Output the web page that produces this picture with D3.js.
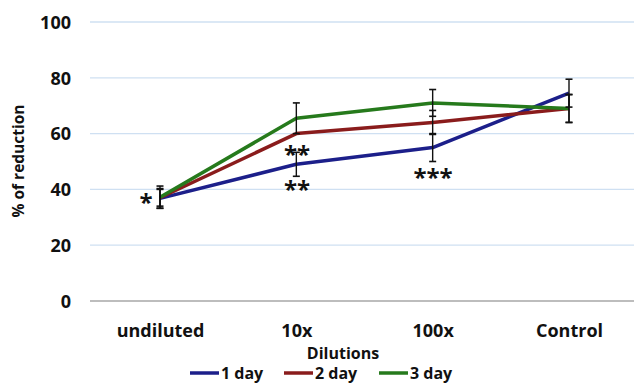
<!DOCTYPE html>
<html>
<head>
<meta charset="utf-8">
<script src="https://cdn.jsdelivr.net/npm/d3@7"></script>
<style>
  body { margin: 0; background: #fff; }
  text { font-family: "Open Sans", sans-serif; font-weight: bold; fill: #111; }
</style>
</head>
<body>
<script>
// chart data
var categories = ["undiluted", "10x", "100x", "Control"];
var seriesNames = ["1 day", "2 day", "3 day"];
var day1 = [36.8, 49, 55, 74.5];
var day2 = [37, 60, 64, 69];
var day3 = [37.2, 65.5, 71, 69];
var err1 = [3.5, 4.3, 5, 5];
var err2 = [3, 0, 4.3, 5];
var err3 = [4, 5.5, 4.8, 5];
var yTicks = [0, 20, 40, 60, 80, 100];
var stars = ["*", "**", "***", ""];
var colors = ["#1c1f8a", "#8a1c1c", "#267a1c"];

var W = 634, H = 384;
var svg = d3.select("body").append("svg")
    .attr("width", W)
    .attr("height", H);

var x = d3.scalePoint().domain(categories).range([160, 569]);
var y = d3.scaleLinear().domain([0, 100]).range([301, 22]);

// grid
svg.selectAll(".grid").data(yTicks.filter(function(d){ return d > 0; }))
  .enter().append("line")
    .attr("x1", 90).attr("x2", W)
    .attr("y1", function(d){ return y(d); })
    .attr("y2", function(d){ return y(d); })
    .style("stroke", "#cfe0f2").style("stroke-width", 1.3);
svg.append("line")
    .attr("x1", 90).attr("x2", W)
    .attr("y1", y(0)).attr("y2", y(0))
    .style("stroke", "#bdbdbd").style("stroke-width", 2);

// y axis labels
var yAxis = d3.axisLeft(y).tickValues(yTicks).tickSize(0).tickPadding(0);
var gy = svg.append("g").attr("transform", "translate(71,0)").call(yAxis);
gy.select(".domain").remove();
gy.selectAll("text").style("font-size", "18px").attr("dy", "0.35em");

// x axis labels
var xAxis = d3.axisBottom(x).tickSize(0).tickPadding(0);
var gx = svg.append("g").attr("transform", "translate(0,331)").call(xAxis);
gx.select(".domain").remove();
gx.selectAll("text").style("font-size", "18px").attr("dy", "0.35em");

svg.append("text")
    .attr("x", 343).attr("y", 359)
    .attr("text-anchor", "middle")
    .style("font-size", "16px")
    .text("Dilutions");

svg.append("text")
    .attr("transform", "translate(24,161) rotate(-90)")
    .attr("text-anchor", "middle")
    .style("font-size", "15.5px")
    .text("% of reduction");

var series = [day1, day2, day3];
var errs = [err1, err2, err3];

var line = d3.line()
    .x(function(d, i){ return x(categories[i]); })
    .y(function(d){ return y(d); });

series.forEach(function(s, k){
  svg.append("path")
    .datum(s)
    .attr("d", line)
    .style("fill", "none")
    .style("stroke", colors[k])
    .style("stroke-width", 3.5)
    .style("stroke-linejoin", "round");
});

// error bars
series.forEach(function(s, k){
  var g = svg.append("g");
  s.forEach(function(v, i){
    var e = errs[k][i];
    if (!e) return;
    var cx = x(categories[i]);
    g.append("line")
      .attr("x1", cx).attr("x2", cx)
      .attr("y1", y(v + e)).attr("y2", y(v - e))
      .style("stroke", "#111").style("stroke-width", 1.4);
    [v + e, v - e].forEach(function(t){
      g.append("line")
        .attr("x1", cx - 3.5).attr("x2", cx + 3.5)
        .attr("y1", y(t)).attr("y2", y(t))
        .style("stroke", "#111").style("stroke-width", 1.6);
    });
  });
});

// significance stars
function star(txt, cx, cy) {
  svg.append("text").attr("x", cx).attr("y", cy).attr("text-anchor", "middle")
    .style("font-size", "24px").style("letter-spacing", "0px").text(txt);
}
star(stars[0], 146, 211);
star(stars[1], 297, 163);
star(stars[1], 297, 198);
star(stars[2], 433, 186);

// legend
var legX = [190, 284, 379];
seriesNames.forEach(function(n, k){
  svg.append("line")
    .attr("x1", legX[k]).attr("x2", legX[k] + 29)
    .attr("y1", 373).attr("y2", 373)
    .style("stroke", colors[k]).style("stroke-width", 3.5);
  svg.append("text")
    .attr("x", legX[k] + 31).attr("y", 379)
    .style("font-size", "16px")
    .text(n);
});
</script>
</body>
</html>
